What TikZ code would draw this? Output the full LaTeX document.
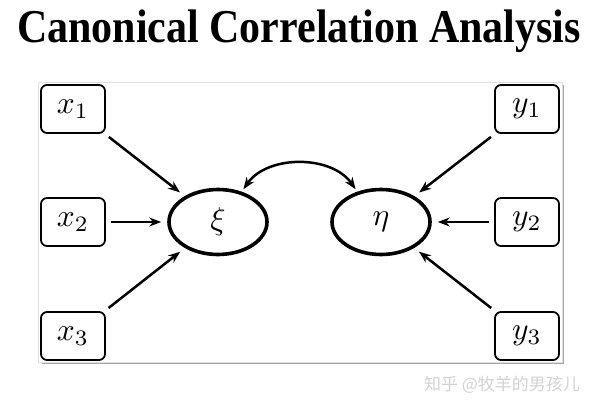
\documentclass[tikz,border=0pt]{standalone}
\usepackage{fontspec}
\setmainfont{Liberation Serif}
\newfontfamily\cjkfont{Noto Sans CJK SC}
\usetikzlibrary{arrows.meta,shapes.geometric}
\newcommand{\varlabel}[1]{\scalebox{3.15}{$#1$}}
\tikzset{
  obs/.style={draw, line width=1.8pt, rounded corners=6pt, minimum width=64pt,
    minimum height=48pt, inner sep=0pt},
  latent/.style={ellipse, draw, line width=3.6pt, minimum width=98pt,
    minimum height=65pt, inner sep=0pt},
  link/.style={-{Stealth[length=12pt,width=9pt]}, line width=2.5pt,
    shorten <=5pt, shorten >=6pt},
}

\begin{document}
\begin{tikzpicture}[x=1pt,y=-1pt]
\useasboundingbox (0,0) rectangle (600,417);
% frame with shadow
\draw[gray!70, line width=1.6pt] (42,363) -- (563,363) -- (563,85);
\draw[gray!25, line width=0.8pt] (38,82) rectangle (562,362);
\node[anchor=base] (title) at (299,43)
  {\scalebox{1}[1.12]{\fontsize{42}{46}\selectfont\bfseries Canonical Correlation Analysis}};

\node[obs] (x1) at (73,109) {\varlabel{x_1}};
\node[obs] (x2) at (73,222) {\varlabel{x_2}};
\node[obs] (x3) at (73,336) {\varlabel{x_3}};
\node[obs] (y1) at (527,109) {\varlabel{y_1}};
\node[obs] (y2) at (527,222) {\varlabel{y_2}};
\node[obs] (y3) at (527,336) {\varlabel{y_3}};
\node[latent] (xi) at (218,222) {\varlabel{\xi}};
\node[latent] (eta) at (381,222) {\varlabel{\eta}};

\path[link]
(x1) edge (xi)
(x2) edge (xi)
(x3) edge (xi)
(y1) edge (eta)
(y2) edge (eta)
(y3) edge (eta)
;
\draw[link, {Stealth[length=12pt,width=9pt]}-{Stealth[length=12pt,width=9pt]}, shorten <=3pt, shorten >=3pt]
  (xi.52) to[out=55,in=125] (eta.128);

\node[gray!35, font=\cjkfont\fontsize{17}{20}\selectfont] (mark) at (502,385)
  {知乎 @牧羊的男孩儿};
\end{tikzpicture}
\end{document}
